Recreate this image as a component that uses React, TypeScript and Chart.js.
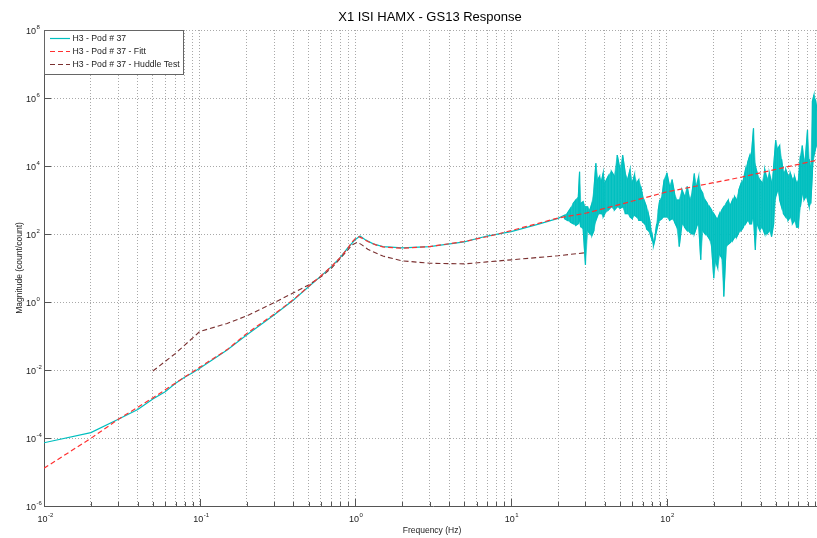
import React, { useEffect, useRef } from "react";
import { Chart, registerables } from "chart.js";

Chart.register(...registerables);

const TITLE = "X1 ISI HAMX - GS13 Response";
const X_LABEL = "Frequency (Hz)";
const Y_LABEL = "Magnitude (count/count)";
const LEGEND_LABELS = ["H3 - Pod # 37", "H3 - Pod # 37 - Fitt", "H3 - Pod # 37 - Huddle Test"];

const X_TICK_EXPONENTS = [-2, -1, 0, 1, 2];
const Y_TICK_EXPONENTS = [-6, -4, -2, 0, 2, 4, 6, 8];

// Measured response (smooth part): frequency in Hz, magnitude as log10
const measFreq = [0.01, 0.02, 0.03, 0.04, 0.05, 0.06, 0.07, 0.08, 0.09, 0.1, 0.15, 0.2, 0.3, 0.4, 0.5, 0.6, 0.7, 0.8, 0.9, 1.0, 1.07, 1.15, 1.3, 1.5, 2, 3, 5, 7, 10, 15, 20];
const measLog = [-4.14, -3.84, -3.45, -3.16, -2.85, -2.64, -2.39, -2.21, -2.08, -1.95, -1.41, -0.97, -0.38, 0.06, 0.45, 0.76, 1.04, 1.31, 1.61, 1.84, 1.94, 1.84, 1.71, 1.63, 1.59, 1.63, 1.77, 1.94, 2.07, 2.29, 2.46];

// Measured response (noisy part): frequency in Hz, upper / lower excursions as log10
const noiseFreq = [
  22, 23, 24, 25, 26, 27, 27.5, 28, 29, 30,
  31, 32, 33, 34, 35, 36, 37, 38, 39, 40,
  42, 44, 46, 48, 50, 52, 54, 56, 58, 60,
  62, 64, 66, 68, 70, 72, 74, 76, 78, 80,
  82, 84, 86, 88, 90, 93, 96, 100, 104, 108,
  112, 116, 120, 125, 130, 135, 140, 145, 150, 155,
  160, 165, 170, 176, 182, 188, 194, 200, 206, 212,
  218, 225, 232, 240, 248, 256, 264, 272, 280, 290,
  300, 310, 320, 330, 340, 350, 360, 370, 380, 395,
  410, 425, 440, 455, 470, 485, 500, 515, 530, 545,
  560, 580, 600, 620, 640, 660, 680, 700, 720, 740,
  760, 780, 800, 820, 840, 860, 880, 900, 925, 950,
  975, 1000,
];
const noiseHiLog = [
  2.55, 2.62, 2.75, 2.9, 3.0, 3.1, 3.83, 2.9, 2.95, 2.8,
  2.8, 2.7, 2.9, 3.3, 4.08, 3.6, 3.7, 3.55, 3.8, 3.5,
  3.7, 3.85, 3.7, 4.32, 3.9, 4.32, 3.8, 3.6, 3.9, 3.5,
  3.75, 3.5, 3.6, 3.4, 3.1, 2.95, 2.8, 2.6, 2.35, 2.05,
  1.75, 1.95, 2.3, 2.7, 3.0, 3.1, 3.6, 3.8, 3.4, 3.6,
  3.2, 3.0, 3.0, 3.3, 3.1, 3.4, 3.0, 3.2, 3.78, 3.4,
  3.69, 3.3, 3.2, 3.0, 2.9, 2.8, 2.7, 2.6, 2.5, 2.45,
  2.6, 2.7, 2.8, 2.9, 3.0, 2.85, 3.0, 3.1, 3.0, 3.3,
  3.5, 3.6, 3.9, 4.1, 4.3, 4.4, 5.11, 4.0, 3.8, 3.6,
  3.5, 3.9, 3.6, 3.8, 3.5, 4.0, 4.76, 4.5, 4.6, 4.2,
  3.8, 3.9, 3.7, 3.8, 3.6, 3.7, 3.5, 3.6, 4.3, 4.6,
  4.1, 4.4, 5.06, 4.2, 3.9, 5.9, 6.09, 5.95, 5.6, 5.4,
  5.5, 5.3,
];
const noiseLoLog = [
  2.45, 2.4, 2.35, 2.3, 2.25, 2.3, 2.4, 2.2, 2.15, 1.09,
  2.1, 2.0, 1.95, 2.1, 2.4, 2.55, 2.6, 2.6, 2.5, 2.6,
  2.7, 2.8, 2.7, 2.8, 2.75, 2.8, 2.6, 2.6, 2.5, 2.45,
  2.55, 2.5, 2.4, 2.4, 2.35, 2.3, 2.15, 2.1, 2.0, 1.85,
  1.65, 1.85, 2.1, 2.3, 2.4, 2.45, 2.5, 2.5, 2.4, 2.45,
  2.35, 2.2, 1.63, 2.3, 2.2, 2.1, 2.05, 2.0, 2.0, 2.2,
  2.3, 1.24, 2.1, 2.0, 1.95, 1.85, 1.6, 0.7, 1.2, 1.0,
  1.4, 1.3, 0.16, 1.6, 1.7, 1.75, 1.8, 1.9, 1.9, 2.05,
  2.1, 2.2, 2.3, 2.4, 2.3, 2.3, 2.5, 1.53, 2.3, 2.1,
  2.2, 2.0, 2.0, 2.1, 1.92, 2.3, 3.1, 3.3, 3.0, 2.8,
  2.6, 2.5, 2.4, 2.5, 2.3, 2.4, 2.2, 2.2, 2.8, 3.2,
  3.0, 3.1, 3.0, 2.8, 2.9, 3.8, 4.3, 4.5, 4.6, 4.6,
  4.5, 4.7,
];

// Fit: frequency in Hz, magnitude as log10
const fitFreq = [0.01, 0.02, 0.03, 0.05, 0.07, 0.1, 0.15, 0.2, 0.3, 0.4, 0.5, 0.6, 0.7, 0.8, 0.9, 0.95, 1.0, 1.05, 1.1, 1.2, 1.35, 1.5, 2, 3, 5, 7, 10, 20, 30, 50, 100, 200, 300, 500, 900, 1000];
const fitLog = [-4.89, -4.01, -3.45, -2.82, -2.38, -1.92, -1.4, -0.93, -0.36, 0.07, 0.46, 0.77, 1.04, 1.31, 1.6, 1.76, 1.87, 1.92, 1.88, 1.78, 1.68, 1.62, 1.58, 1.63, 1.78, 1.92, 2.1, 2.47, 2.61, 2.87, 3.24, 3.51, 3.67, 3.9, 4.16, 4.2];

// Huddle test: frequency in Hz, magnitude as log10
const hudFreq = [0.05, 0.07, 0.1, 0.15, 0.2, 0.3, 0.4, 0.5, 0.6, 0.7, 0.8, 0.9, 0.95, 1.03, 1.1, 1.2, 1.5, 2, 3, 5, 7, 10, 15, 20, 30];
const hudLog = [-2.03, -1.51, -0.87, -0.63, -0.41, -0.02, 0.27, 0.5, 0.74, 0.99, 1.28, 1.55, 1.68, 1.76, 1.68, 1.55, 1.35, 1.21, 1.14, 1.12, 1.18, 1.24, 1.31, 1.36, 1.45];

const CYAN = "#00bfbf";
const CYAN_FILL = "rgba(0, 191, 191, 0.92)";
const RED = "#ff3030";
const BROWN = "#7a3030";
const GRID = "#a9a9a9";
const AXIS = "#555555";
const TEXT = "#222222";
const FONT = '"Liberation Sans", Arial, Helvetica, sans-serif';
const DASH = [5, 3];

function xGridValues(): number[] {
  const out: number[] = [];
  for (let e = -2; e <= 2; e++) {
    for (let m = 1; m <= 9; m++) out.push(m * Math.pow(10, e));
  }
  out.push(1000);
  return out;
}

function drawPow(ctx: CanvasRenderingContext2D, baseX: number, baseY: number, exp: number, align: "center" | "right") {
  ctx.font = `9px ${FONT}`;
  const wb = ctx.measureText("10").width;
  const expStr = String(exp);
  const start = align === "center" ? baseX - wb / 2 : baseX - wb;
  ctx.textAlign = "left";
  ctx.textBaseline = "alphabetic";
  ctx.fillText("10", start, baseY);
  ctx.font = `6px ${FONT}`;
  ctx.fillText(expStr, start + wb + 0.5, baseY - 5.5);
}

const decorPlugin = {
  id: "decor",
  beforeDraw(chart: any) {
    const { ctx, width, height } = chart;
    ctx.save();
    ctx.fillStyle = "#ffffff";
    ctx.fillRect(0, 0, width, height);
    ctx.restore();
  },
  afterDraw(chart: any) {
    const { ctx, chartArea: ca } = chart;
    const xs = chart.scales.x;
    const ys = chart.scales.y;
    ctx.save();
    ctx.strokeStyle = AXIS;
    ctx.lineWidth = 1;
    ctx.setLineDash([]);
    // inward ticks
    xGridValues().forEach((v) => {
      const px = Math.round(xs.getPixelForValue(v)) + 0.5;
      const major = Math.abs(Math.log10(v) - Math.round(Math.log10(v))) < 1e-9;
      const len = major ? 7 : 4;
      ctx.beginPath();
      ctx.moveTo(px, ca.bottom);
      ctx.lineTo(px, ca.bottom - len);
      ctx.stroke();
    });
    Y_TICK_EXPONENTS.forEach((e) => {
      const py = Math.round(ys.getPixelForValue(Math.pow(10, e))) + 0.5;
      ctx.beginPath();
      ctx.moveTo(ca.left, py);
      ctx.lineTo(ca.left + 7, py);
      ctx.stroke();
    });
    // tick labels
    ctx.fillStyle = TEXT;
    X_TICK_EXPONENTS.forEach((e) => {
      const px = xs.getPixelForValue(Math.pow(10, e));
      drawPow(ctx, px - 1.5, ca.bottom + 16, e, "center");
    });
    Y_TICK_EXPONENTS.forEach((e) => {
      const py = ys.getPixelForValue(Math.pow(10, e));
      drawPow(ctx, ca.left - 8, py + 4, e, "right");
    });
    // title
    ctx.fillStyle = "#000000";
    ctx.font = `13px ${FONT}`;
    ctx.textAlign = "center";
    ctx.textBaseline = "alphabetic";
    ctx.fillText(TITLE, 430, 21);
    // axis titles
    ctx.fillStyle = TEXT;
    ctx.font = `8.5px ${FONT}`;
    ctx.fillText(X_LABEL, 432, 533);
    ctx.save();
    ctx.translate(21.5, 268);
    ctx.rotate(-Math.PI / 2);
    ctx.fillText(Y_LABEL, 0, 0);
    ctx.restore();
    // legend
    const lx = 44.5, ly = 30.5, lw = 139, lh = 44;
    ctx.fillStyle = "#ffffff";
    ctx.fillRect(lx, ly, lw, lh);
    ctx.strokeStyle = "#666666";
    ctx.strokeRect(lx, ly, lw, lh);
    const colors = [CYAN, RED, BROWN];
    const dashes = [[], DASH, DASH];
    const rows = [38, 51, 64];
    LEGEND_LABELS.forEach((label, i) => {
      ctx.strokeStyle = colors[i];
      ctx.lineWidth = 1.2;
      ctx.setLineDash(dashes[i]);
      ctx.beginPath();
      ctx.moveTo(50, rows[i] + 0.5);
      ctx.lineTo(70, rows[i] + 0.5);
      ctx.stroke();
      ctx.setLineDash([]);
      ctx.fillStyle = TEXT;
      ctx.font = `8.7px ${FONT}`;
      ctx.textAlign = "left";
      ctx.textBaseline = "middle";
      ctx.fillText(label, 72.5, rows[i] + 0.5);
    });
    ctx.restore();
  },
};

export default function App() {
  const ref = useRef<HTMLCanvasElement>(null);
  useEffect(() => {
    const canvas = ref.current;
    if (!canvas) return;

    const cyanPts: { x: number; y: number }[] = measFreq.map((f, i) => ({ x: f, y: Math.pow(10, measLog[i]) }));
    noiseFreq.forEach((f, i) => {
      const hi = { x: f, y: Math.pow(10, noiseHiLog[i]) };
      const lo = { x: f, y: Math.pow(10, noiseLoLog[i]) };
      if (i % 2 === 0) cyanPts.push(hi, lo);
      else cyanPts.push(lo, hi);
    });
    const hiEnv = noiseFreq.map((f, i) => ({ x: f, y: Math.pow(10, noiseHiLog[i]) }));
    const loEnv = noiseFreq.map((f, i) => ({ x: f, y: Math.pow(10, noiseLoLog[i]) }));
    const fitPts = fitFreq.map((f, i) => ({ x: f, y: Math.pow(10, fitLog[i]) }));
    const hudPts = hudFreq.map((f, i) => ({ x: f, y: Math.pow(10, hudLog[i]) }));

    const yTickValues = Y_TICK_EXPONENTS.map((e) => Math.pow(10, e));

    const chart = new Chart(canvas, {
      type: "line",
      data: {
        datasets: [
          { label: LEGEND_LABELS[0], data: cyanPts, borderColor: CYAN, backgroundColor: CYAN, borderWidth: 1.2, pointRadius: 0, tension: 0, fill: false, order: 3 },
          { label: "upper", data: hiEnv, borderColor: "rgba(0,191,191,0.55)", backgroundColor: CYAN_FILL, borderWidth: 1, pointRadius: 0, tension: 0, fill: false, order: 5 },
          { label: "lower", data: loEnv, borderColor: "rgba(0,191,191,0.55)", backgroundColor: CYAN_FILL, borderWidth: 1, pointRadius: 0, tension: 0, fill: 1, order: 4 },
          { label: LEGEND_LABELS[2], data: hudPts, borderColor: BROWN, backgroundColor: BROWN, borderWidth: 1.1, borderDash: DASH, pointRadius: 0, tension: 0, fill: false, order: 2 },
          { label: LEGEND_LABELS[1], data: fitPts, borderColor: RED, backgroundColor: RED, borderWidth: 1.2, borderDash: DASH, pointRadius: 0, tension: 0, fill: false, order: 1 },
        ],
      },
      options: {
        animation: false,
        responsive: false,
        devicePixelRatio: 1,
        events: [],
        layout: { padding: { top: 30, right: 2.4, left: 0, bottom: 0 } },
        plugins: {
          legend: { display: false },
          title: { display: false },
          tooltip: { enabled: false },
          filler: { propagate: false },
        },
        scales: {
          x: {
            type: "logarithmic",
            min: 0.01,
            max: 1000,
            afterBuildTicks: (scale: any) => {
              scale.ticks = xGridValues().map((v) => ({ value: v }));
            },
            afterFit: (scale: any) => {
              scale.height = 32;
            },
            ticks: { display: false },
            grid: { color: GRID, lineWidth: 1, drawTicks: false },
            border: { display: true, color: AXIS, width: 1, dash: [1, 2] },
          },
          y: {
            type: "logarithmic",
            min: 1e-6,
            max: 1e8,
            afterBuildTicks: (scale: any) => {
              scale.ticks = yTickValues.map((v) => ({ value: v }));
            },
            afterFit: (scale: any) => {
              scale.width = 44;
            },
            ticks: { display: false },
            grid: { color: GRID, lineWidth: 1, drawTicks: false },
            border: { display: true, color: AXIS, width: 1, dash: [1, 2] },
          },
        },
      } as any,
      plugins: [decorPlugin],
    });
    return () => chart.destroy();
  }, []);

  return (
    <div style={{ position: "absolute", left: 0, top: 0, width: 817, height: 538, overflow: "hidden", background: "#ffffff" }}>
      <canvas ref={ref} width={825} height={538} style={{ display: "block", width: 825, height: 538 }} />
    </div>
  );
}
